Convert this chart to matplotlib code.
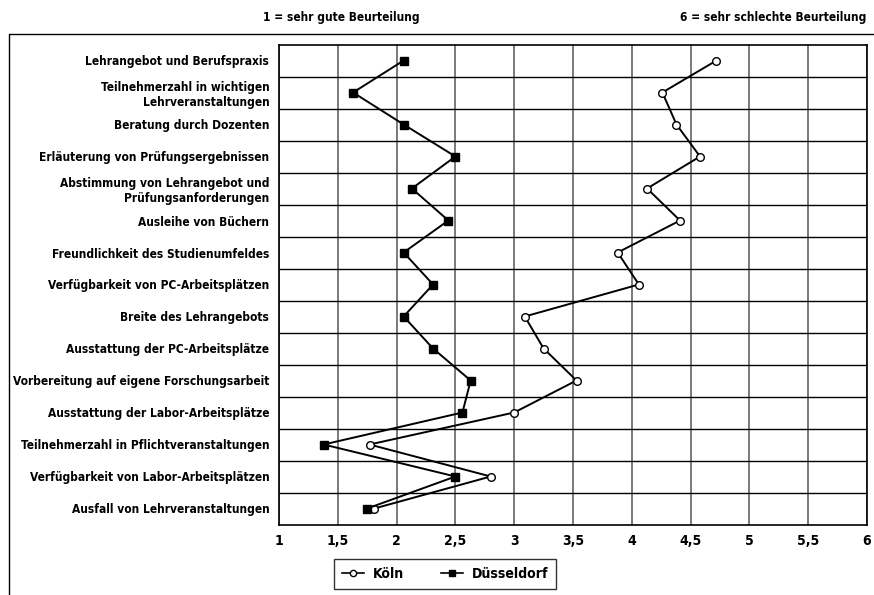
import matplotlib
matplotlib.use("Agg")
import matplotlib.pyplot as plt
from matplotlib import font_manager as fm
from matplotlib.lines import Line2D
import numpy as np

# survey items, top to bottom
items = [
  "Lehrangebot und Berufspraxis",
  "Teilnehmerzahl in wichtigen\nLehrveranstaltungen",
  "Beratung durch Dozenten",
  "Erläuterung von Prüfungsergebnissen",
  "Abstimmung von Lehrangebot und\nPrüfungsanforderungen",
  "Ausleihe von Büchern",
  "Freundlichkeit des Studienumfeldes",
  "Verfügbarkeit von PC-Arbeitsplätzen",
  "Breite des Lehrangebots",
  "Ausstattung der PC-Arbeitsplätze",
  "Vorbereitung auf eigene Forschungsarbeit",
  "Ausstattung der Labor-Arbeitsplätze",
  "Teilnehmerzahl in Pflichtveranstaltungen",
  "Verfügbarkeit von Labor-Arbeitsplätzen",
  "Ausfall von Lehrveranstaltungen",
]

# average ratings (1 = very good, 6 = very bad)
koeln = [4.72, 4.26, 4.38, 4.58, 4.13, 4.41, 3.88, 4.06,
         3.09, 3.25, 3.53, 3.00, 1.77, 2.80, 1.81]
duesseldorf = [2.06, 1.63, 2.06, 2.50, 2.13, 2.44, 2.06, 2.31,
               2.06, 2.31, 2.63, 2.56, 1.38, 2.50, 1.75]

x_ticks = [1, 1.5, 2, 2.5, 3, 3.5, 4, 4.5, 5, 5.5, 6]
x_tick_labels = ["1", "1,5", "2", "2,5", "3", "3,5", "4", "4,5", "5", "5,5", "6"]

# pick a narrow font if one is installed, otherwise Roboto
narrow = [f for f in fm.fontManager.ttflist
          if "Condensed" in f.name or "Narrow" in f.name
          or f.stretch in ("condensed", "semi-condensed")]
if narrow:
  plt.rcParams["font.family"] = [narrow[0].name, "DejaVu Sans"]
  plt.rcParams["font.stretch"] = narrow[0].stretch
else:
  plt.rcParams["font.family"] = ["Roboto", "DejaVu Sans"]
plt.rcParams["font.weight"] = "bold"

fig = plt.figure(figsize=(8.74, 5.95), dpi=100)

# scale the font so the longest label is about as wide as in the original
probe = fig.text(0, 0, "Vorbereitung auf eigene Forschungsarbeit", fontsize=10)
w = probe.get_window_extent(fig.canvas.get_renderer()).width
probe.remove()
fsize = min(11.0, 10 * 256 / w)

ax = fig.add_axes([279 / 874, 1 - 524.5 / 595, 588 / 874, 480 / 595])

rows = np.arange(len(items))

ax.plot(koeln, rows, color="black", lw=1.4, marker="o", ms=5.5,
        mfc="white", mec="black", mew=1.0, zorder=4)
ax.plot(duesseldorf, rows, color="black", lw=1.4, marker="s", ms=5.5,
        mfc="black", mec="black", zorder=4)

ax.set_xlim(1, 6)
ax.set_ylim(len(items) - 0.5, -0.5)

ax.set_xticks(x_ticks)
ax.set_xticklabels(x_tick_labels)
ax.set_yticks(rows)
ax.set_yticklabels(items, ha="right", multialignment="right", linespacing=1.2)
ax.set_yticks(rows[:-1] + 0.5, minor=True)

ax.tick_params(axis="both", which="both", length=0)
ax.tick_params(axis="y", pad=7, labelsize=fsize)
ax.tick_params(axis="x", pad=7, labelsize=fsize + 1.5)

ax.grid(axis="x", which="major", color="#707070", lw=1.3, zorder=1)
ax.grid(axis="y", which="minor", color="black", lw=1.0, zorder=1)
for s in ax.spines.values():
  s.set_color("black")
  s.set_linewidth(1.2)

# headers above the plot
fig.text(263 / 874, 1 - 17 / 595, "1 = sehr gute Beurteilung",
         ha="left", va="center", fontsize=fsize, fontweight="bold")
fig.text(866 / 874, 1 - 17 / 595, "6 = sehr schlechte Beurteilung",
         ha="right", va="center", fontsize=fsize, fontweight="bold")

# outer frame (top and left lines)
fig.add_artist(Line2D([8.5 / 874, 8.5 / 874, 1], [0, 1 - 34 / 595, 1 - 34 / 595],
                      transform=fig.transFigure, color="black", lw=1.0))

handles = [
  Line2D([], [], color="black", lw=1.2, marker="o", ms=4.5, mfc="white", mec="black"),
  Line2D([], [], color="black", lw=1.2, marker="s", ms=4.5, mfc="black", mec="black"),
]
leg = fig.legend(handles, ["Köln", "Düsseldorf"], ncol=2,
                 loc="center", bbox_to_anchor=(445 / 874, 1 - 574 / 595),
                 frameon=True, fancybox=False, edgecolor="black",
                 handlelength=1.6, columnspacing=2.6, handletextpad=0.6,
                 fontsize=fsize + 1.5, borderpad=0.6)
leg.get_frame().set_linewidth(1.0)

fig.savefig("out.png", dpi=100)
